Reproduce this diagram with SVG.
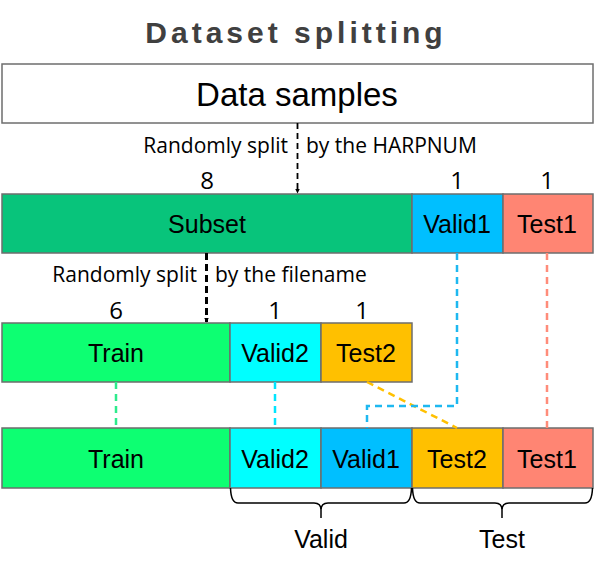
<svg xmlns="http://www.w3.org/2000/svg" width="595" height="572" viewBox="0 0 595 572">
<style>
.box{stroke:#6e6e6e;stroke-width:1.5}
.lbl{font-family:"Liberation Sans",Arial,sans-serif;font-size:25px;fill:#000;text-anchor:middle}
.num{font-family:"Open Sans",sans-serif;font-size:24px;fill:#000;text-anchor:middle}
.note{font-family:"Open Sans",sans-serif;font-size:21px;fill:#000}
.dash{fill:none;stroke-width:2.5;stroke-dasharray:7,5}
.brace{fill:none;stroke:#000;stroke-width:1.5}
</style>
<defs>
<marker id="ah" viewBox="0 0 10 10" refX="9" refY="5" markerWidth="5" markerHeight="5" orient="auto" markerUnits="userSpaceOnUse">
<path d="M0,0 L10,5 L0,10 z" fill="#000"/>
</marker>
</defs>
<rect width="595" height="572" fill="#fff"/>
<text x="296" y="43" font-family="Liberation Sans,Arial,sans-serif" font-size="30" font-weight="bold" fill="#404040" text-anchor="middle" letter-spacing="4">Dataset splitting</text>

<g id="data-samples">
<rect class="box" x="2" y="64" width="591" height="59" fill="#fff"/>
<text class="lbl" x="297" y="106" style="font-size:33px">Data samples</text>
</g>

<g id="row1">
<g id="subset"><rect class="box" x="2" y="194" width="410" height="59" fill="#08c47b"/><text class="lbl" x="207" y="233">Subset</text><text class="num" x="207" y="189">8</text></g>
<g id="valid1-a"><rect class="box" x="412" y="194" width="91" height="59" fill="#00bfff"/><text class="lbl" x="457" y="233">Valid1</text><text class="num" x="457" y="189">1</text></g>
<g id="test1-a"><rect class="box" x="503" y="194" width="90" height="59" fill="#ff8573"/><text class="lbl" x="547" y="233">Test1</text><text class="num" x="547" y="189">1</text></g>
</g>

<g id="row2">
<g id="train-a"><rect class="box" x="2" y="323" width="228" height="59" fill="#0dff72"/><text class="lbl" x="116" y="362">Train</text><text class="num" x="116" y="319">6</text></g>
<g id="valid2-a"><rect class="box" x="230" y="323" width="91" height="59" fill="#00ffff"/><text class="lbl" x="275" y="362">Valid2</text><text class="num" x="275" y="319">1</text></g>
<g id="test2-a"><rect class="box" x="321" y="323" width="91" height="59" fill="#ffc000"/><text class="lbl" x="366" y="362">Test2</text><text class="num" x="362" y="319">1</text></g>
</g>

<g id="row3">
<g id="train-b"><rect class="box" x="2" y="428" width="228" height="60" fill="#0dff72"/><text class="lbl" x="116" y="468">Train</text></g>
<g id="valid2-b"><rect class="box" x="230" y="428" width="91" height="60" fill="#00ffff"/><text class="lbl" x="275" y="468">Valid2</text></g>
<g id="valid1-b"><rect class="box" x="321" y="428" width="91" height="60" fill="#00bfff"/><text class="lbl" x="366" y="468">Valid1</text></g>
<g id="test2-b"><rect class="box" x="412" y="428" width="91" height="60" fill="#ffc000"/><text class="lbl" x="457" y="468">Test2</text></g>
<g id="test1-b"><rect class="box" x="503" y="428" width="90" height="60" fill="#ff8573"/><text class="lbl" x="547" y="468">Test1</text></g>
</g>

<g id="connectors">
<line x1="297.5" y1="123" x2="297.5" y2="193" stroke="#000" stroke-width="1.8" stroke-dasharray="6,4" marker-end="url(#ah)"/>
<line x1="206.5" y1="253" x2="206.5" y2="322" stroke="#000" stroke-width="3" stroke-dasharray="7,4" marker-end="url(#ah)"/>
<line class="dash" x1="116" y1="382" x2="116" y2="428" stroke="#2deb8c"/>
<line class="dash" x1="275" y1="382" x2="275" y2="428" stroke="#00e5ff"/>
<line class="dash" x1="367" y1="382" x2="457" y2="428" stroke="#ffc000" stroke-width="3"/>
<polyline class="dash" points="457,253 457,406 367,406 367,428" stroke="#1eb8f0"/>
<line class="dash" x1="547" y1="253" x2="547" y2="428" stroke="#ff8c7a" stroke-width="2"/>
</g>

<g id="notes">
<text class="note" x="288" y="153" text-anchor="end">Randomly split</text>
<text class="note" x="306" y="153">by the HARPNUM</text>
<text class="note" x="197" y="282" text-anchor="end">Randomly split</text>
<text class="note" x="215" y="282">by the filename</text>
</g>

<g id="valid-brace">
<path class="brace" d="M230.5,488 Q231,503 238,503 H314 Q321,503 321,510 V518 M321,510 Q321,503 328,503 H404 Q411,503 411.5,488"/>
<text class="lbl" x="321" y="548">Valid</text>
</g>
<g id="test-brace">
<path class="brace" d="M412.5,488 Q413,503 420,503 H495 Q502,503 502,510 V518 M502,510 Q502,503 509,503 H585 Q592,503 592.5,488"/>
<text class="lbl" x="502" y="548">Test</text>
</g>
</svg>
